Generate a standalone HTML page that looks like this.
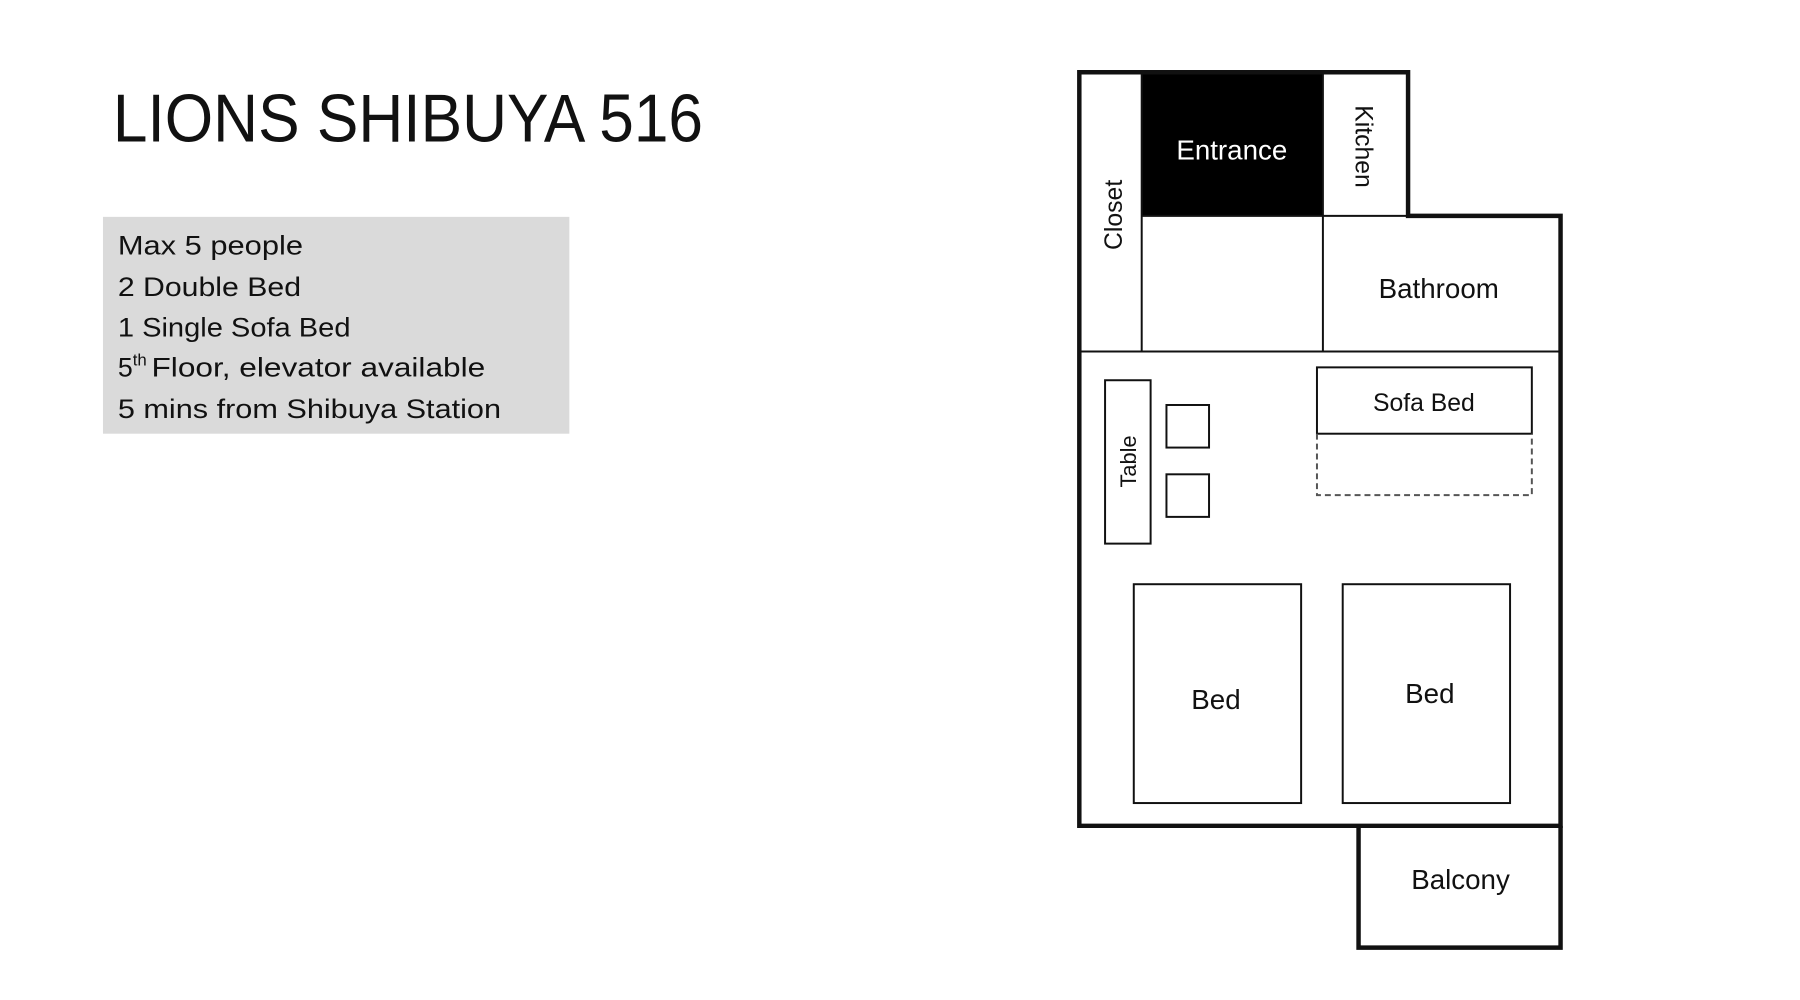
<!DOCTYPE html>
<html><head><meta charset="utf-8"><style>
html,body{margin:0;padding:0;background:#fff;}
svg{display:block;font-family:"Liberation Sans",sans-serif;}
</style></head><body>
<svg width="1800" height="1000" viewBox="0 0 1800 1000" xmlns="http://www.w3.org/2000/svg">
<rect width="1800" height="1000" fill="#fff"/>
<g transform="scale(0.9902)">
<text x="114" y="143" font-size="68" fill="#111" textLength="596" lengthAdjust="spacingAndGlyphs">LIONS SHIBUYA 516</text>
<rect x="104" y="219" width="471" height="219" fill="#dadada"/>
<g font-size="27" fill="#111">
<text x="119" y="257" textLength="187" lengthAdjust="spacingAndGlyphs">Max 5 people</text>
<text x="119" y="299" textLength="185" lengthAdjust="spacingAndGlyphs">2 Double Bed</text>
<text x="119" y="340" textLength="235" lengthAdjust="spacingAndGlyphs">1 Single Sofa Bed</text>
<text x="119" y="380">5<tspan font-size="17" dy="-11">th</tspan><tspan dy="11" x="153" textLength="337" lengthAdjust="spacingAndGlyphs">Floor, elevator available</tspan></text>
<text x="119" y="422" textLength="387" lengthAdjust="spacingAndGlyphs">5 mins from Shibuya Station</text>
</g>
<rect x="1153" y="75" width="183" height="143" fill="#000"/>
<g fill="none" stroke="#111" stroke-width="2">
<line x1="1153" y1="75" x2="1153" y2="355"/>
<line x1="1336" y1="75" x2="1336" y2="355"/>
<line x1="1153" y1="218" x2="1422" y2="218"/>
<line x1="1090" y1="355" x2="1576" y2="355"/>
<rect x="1116" y="384" width="46" height="165"/>
<rect x="1178" y="409" width="43" height="43"/>
<rect x="1178" y="479" width="43" height="43"/>
<rect x="1330" y="371" width="217" height="67"/>
<rect x="1145" y="590" width="169" height="221"/>
<rect x="1356" y="590" width="169" height="221"/>
</g>
<path d="M1330 438 V500 H1547 V438" fill="none" stroke="#555" stroke-width="2" stroke-dasharray="6,4"/>
<g fill="none" stroke="#111" stroke-width="4.5" stroke-linejoin="miter">
<path d="M1090 834 V73 H1422 V218 H1576 V834 Z"/>
<path d="M1372 834 V957 H1576 V834"/>
</g>
<g font-size="28" fill="#111" text-anchor="middle">
<text x="1244" y="161" fill="#fff">Entrance</text>
<text x="1453" y="301">Bathroom</text>
<text x="1228" y="716">Bed</text>
<text x="1444" y="710">Bed</text>
<text x="1475" y="898">Balcony</text>
<text x="1438" y="415" font-size="25">Sofa Bed</text>
<text transform="translate(1369,148) rotate(90)" font-size="25">Kitchen</text>
<text transform="translate(1133,217) rotate(-90)" font-size="25">Closet</text>
<text transform="translate(1147,466) rotate(-90)" font-size="22">Table</text>
</g>
</g>
</svg>
</body></html>
